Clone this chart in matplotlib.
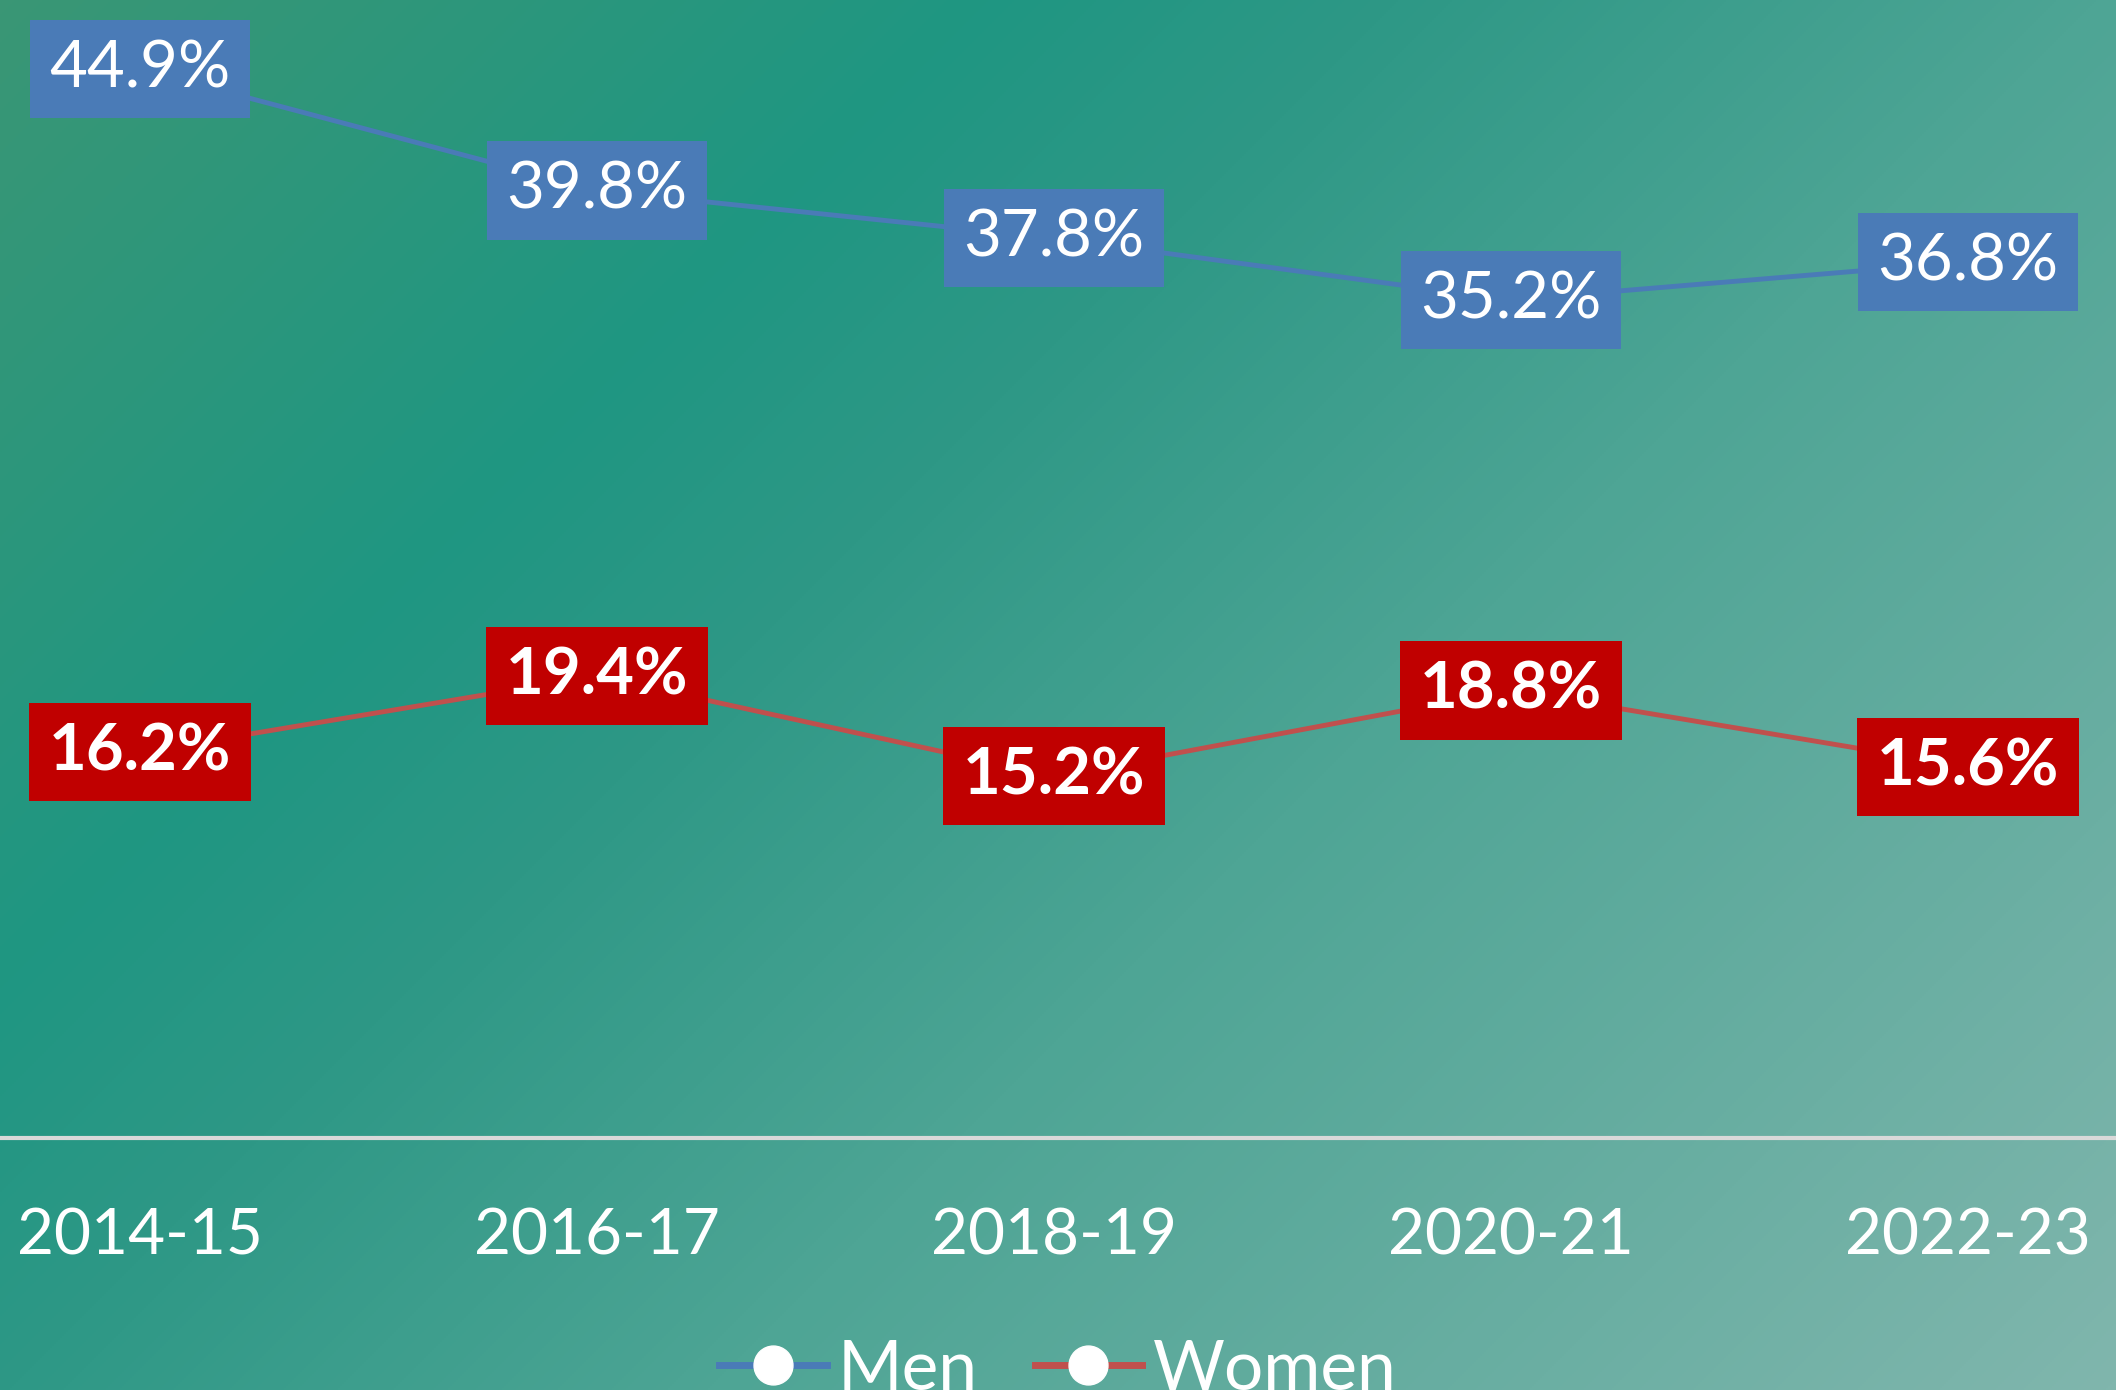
import numpy as np
import matplotlib.pyplot as plt
from matplotlib.colors import LinearSegmentedColormap

# Data
years = ['2014-15', '2016-17', '2018-19', '2020-21', '2022-23']
men = [44.9, 39.8, 37.8, 35.2, 36.8]
women = [16.2, 19.4, 15.2, 18.8, 15.6]

plt.rcParams['font.family'] = ['Lato', 'DejaVu Sans']

W, H = 2116, 1390
fig = plt.figure(figsize=(W / 100, H / 100), dpi=100)

# Diagonal gradient background
bg = fig.add_axes([0, 0, 1, 1])
yy, xx = np.mgrid[0:H:2, 0:W:2]
s = (xx + yy) / (W + H)
cmap = LinearSegmentedColormap.from_list('bg', [
    (0.0, '#3a9675'), (0.28, '#1f9682'), (0.4, '#2e9886'),
    (0.6, '#4ea595'), (1.0, '#80b6ad')])
bg.imshow(s, cmap=cmap, aspect='auto', extent=[0, 1, 0, 1], origin='upper', vmin=0, vmax=1)
bg.set_axis_off()

# Chart axes
ax_bottom = (H - 1138) / H
ax = fig.add_axes([0, ax_bottom, 1, 1 - ax_bottom])
ax.patch.set_alpha(0)
x = np.arange(len(years))

men_color = '#4a7bb7'
women_color = '#c0504d'
ax.plot(x, men, color=men_color, lw=3.5, marker='o', ms=28, mfc='white', mec='white', label='Men')
ax.plot(x, women, color=women_color, lw=3.5, marker='o', ms=28, mfc='white', mec='white', label='Women')

for xi, v in zip(x, men):
    ax.text(xi, v, f'{v}%', ha='center', va='center', color='white', fontsize=47,
            bbox=dict(boxstyle='square,pad=0.3', fc='#4a7bb7', ec='none'), zorder=5)
for xi, v in zip(x, women):
    ax.text(xi, v, f'{v}%', ha='center', va='center', color='white', fontsize=47, fontweight='bold',
            bbox=dict(boxstyle='square,pad=0.3', fc='#c00000', ec='none'), zorder=5)

ax.set_xlim(-0.306, 4.324)
ax.set_ylim(0, 47.8)
for side in ['top', 'right', 'left']:
    ax.spines[side].set_visible(False)
ax.spines['bottom'].set_color('#d9d9d9')
ax.spines['bottom'].set_linewidth(3)
ax.set_yticks([])
ax.set_xticks(x)
ax.set_xticklabels(years, fontsize=46, color='white')
ax.tick_params(axis='x', length=0, pad=50)

leg = fig.legend(loc='center', bbox_to_anchor=(0.5, (H - 1370) / H), ncol=2, frameon=False,
                 fontsize=50, labelcolor='white', handlelength=1.55, handletextpad=0.16,
                 columnspacing=0.82)
for line in leg.get_lines():
    line.set_linewidth(5)

fig.savefig('out.png', dpi=100)
